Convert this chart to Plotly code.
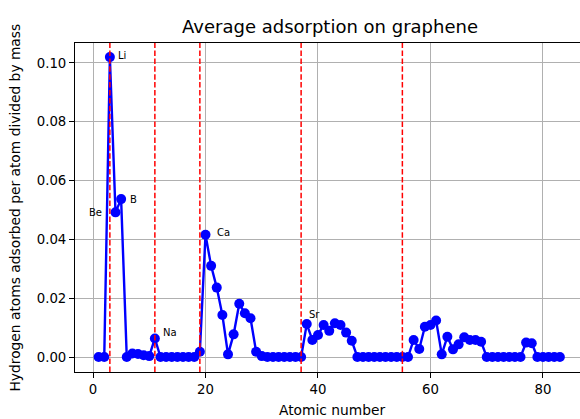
import plotly.graph_objects as go

# Data
atomic_number = list(range(1, 84))
adsorption = [
    0.0, 0.0, 0.102, 0.0492, 0.0537, 0.0, 0.0012, 0.0010, 0.0006, 0.0003,  # 1-10
    0.0063, 0.0, 0.0, 0.0, 0.0, 0.0, 0.0, 0.0, 0.0018, 0.0416,           # 11-20
    0.0310, 0.0236, 0.0143, 0.0009, 0.0077, 0.0181, 0.0149, 0.0132, 0.0018, 0.0003,  # 21-30
    0.0, 0.0, 0.0, 0.0, 0.0, 0.0, 0.0, 0.0112, 0.0058, 0.0075,           # 31-40
    0.0109, 0.0089, 0.0115, 0.0109, 0.0083, 0.0055, 0.0, 0.0, 0.0, 0.0,  # 41-50
    0.0, 0.0, 0.0, 0.0, 0.0, 0.0, 0.0058, 0.0027, 0.0103, 0.0109,        # 51-60
    0.0124, 0.0009, 0.0069, 0.0026, 0.0043, 0.0067, 0.0058, 0.0058, 0.0052, 0.0,  # 61-70
    0.0, 0.0, 0.0, 0.0, 0.0, 0.0, 0.0049, 0.0047, 0.0, 0.0,              # 71-80
    0.0, 0.0, 0.0,                                                       # 81-83
]
alkali_lines = [3, 11, 19, 37, 55]
label_names = ["Li", "Be", "B", "Na", "Ca", "Sr"]
label_z = [3, 4, 5, 11, 20, 38]

x_ticks = [0, 20, 40, 60, 80]
y_ticks = [0.0, 0.02, 0.04, 0.06, 0.08, 0.10]

# label offsets (pixels): (xanchor, xshift, yshift)
label_style = {
    "Li": ("left", 6, 2),
    "Be": ("right", -12, 0),
    "B": ("left", 7, 0),
    "Na": ("left", 6, 6),
    "Ca": ("left", 9, 2),
    "Sr": ("left", 0, 10),
}

FONT = "DejaVu Sans"

fig = go.Figure()
fig.add_trace(go.Scatter(
    x=atomic_number, y=adsorption, mode="lines+markers",
    line=dict(color="#0000ff", width=2.4),
    marker=dict(color="#0000ff", size=10, line=dict(width=0)),
    showlegend=False, hoverinfo="skip",
))

for xv in alkali_lines:
    fig.add_shape(type="line", xref="x", yref="paper", x0=xv, x1=xv, y0=0, y1=1,
                  line=dict(color="#ff0000", width=1.5, dash="5.5px,2.4px"), layer="above")

for name, z in zip(label_names, label_z):
    xa, xs, ys = label_style[name]
    fig.add_annotation(x=z, y=adsorption[z - 1], text=name, showarrow=False,
                       xanchor=xa, yanchor="middle", xshift=xs, yshift=ys,
                       font=dict(family=FONT, size=10, color="black"))

# axis titles
fig.add_annotation(xref="paper", yref="paper", x=0.508, y=0, yshift=-38, yanchor="middle",
                   text="Atomic number", showarrow=False,
                   font=dict(family=FONT, size=13.8, color="black"))
fig.add_annotation(xref="paper", yref="paper", x=0, xshift=-61, y=0.5, xanchor="center",
                   text="Hydrogen atoms adsorbed per atom divided by mass", textangle=-90,
                   showarrow=False, font=dict(family=FONT, size=13.8, color="black"))

fig.update_layout(
    width=580, height=419,
    margin=dict(l=75, r=0, t=43, b=47),
    paper_bgcolor="white", plot_bgcolor="white",
    font=dict(family=FONT, size=13.3, color="black"),
    title=dict(text="Average adsorption on graphene", x=0.505, xref="paper", xanchor="center",
               y=1 - 27 / 419, yref="container", yanchor="middle",
               font=dict(family=FONT, size=18, color="black")),
    xaxis=dict(range=[-3.2, 86.58], tickvals=x_ticks, ticktext=[str(v) for v in x_ticks],
               showgrid=True, gridcolor="#b0b0b0", gridwidth=1, zeroline=False,
               showline=True, linecolor="black", linewidth=1, mirror=True,
               ticks="outside", ticklen=5, tickwidth=1, tickcolor="black"),
    yaxis=dict(range=[-0.0051, 0.1068], tickvals=y_ticks, ticktext=[f"{v:.2f}" for v in y_ticks],
               showgrid=True, gridcolor="#b0b0b0", gridwidth=1, zeroline=False,
               showline=True, linecolor="black", linewidth=1, mirror=False,
               ticks="outside", ticklen=5, tickwidth=1, tickcolor="black"),
)

fig.write_html("out.html")
